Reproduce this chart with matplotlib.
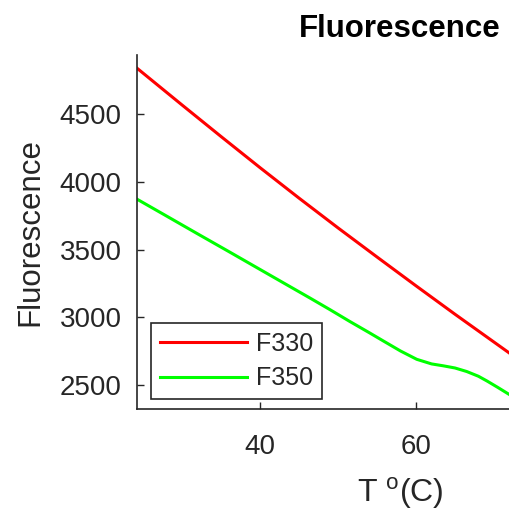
import numpy as np
import matplotlib.pyplot as plt

plt.rcParams["font.family"] = ["Liberation Sans", "DejaVu Sans"]

# ── DATA ─────────────────────────────────────────────────────────────────────
temp_f330 = [24.2, 30.0, 35.0, 40.0, 45.0, 50.0, 55.0, 60.0, 65.0, 72.05]
f330      = [4842, 4569, 4336, 4106, 3881, 3661, 3446, 3233, 3023, 2733]

temp_f350 = [24.2, 28.0, 32.0, 36.0, 40.0, 43.0, 46.4, 49.0, 51.5, 54.0, 55.8,
             58.0, 60.1, 62.0, 63.5, 65.0, 66.5, 68.0, 69.1, 70.5, 72.05]
f350      = [3874, 3749, 3617, 3486, 3354, 3255, 3143, 3056, 2970, 2887, 2826,
             2752, 2690, 2656, 2642, 2626, 2600, 2565, 2530, 2482, 2427]

TXT  = "#262626"
RED  = "#FF0000"
GRN  = "#00FF00"

fig = plt.figure(figsize=(5.10, 5.16), dpi=100)
fig.patch.set_facecolor("white")

# axes run past the right edge of the picture (cropped MATLAB figure)
ax = fig.add_axes([137 / 510, 107 / 516, 526 / 510, 354 / 516])
ax.plot(temp_f330, f330, color=RED, linewidth=2.2, label="F330")
ax.plot(temp_f350, f350, color=GRN, linewidth=2.2, label="F350")

ax.set_xlim(24.23, 91.67)
ax.set_ylim(2323, 4938)
ax.set_xticks([40, 60])
ax.set_yticks([2500, 3000, 3500, 4000, 4500])

for side in ["top", "right"]:
    ax.spines[side].set_visible(False)
for side in ["left", "bottom"]:
    ax.spines[side].set_color(TXT)
    ax.spines[side].set_linewidth(1.2)
ax.tick_params(direction="in", length=5, width=1.0, colors=TXT, labelsize=20)
ax.tick_params(axis="x", pad=18)
ax.tick_params(axis="y", pad=11)

ax.set_title("Fluorescence", fontsize=22.5, fontweight="bold", color="black", pad=13)
ax.set_xlabel("T $^{\\mathregular{o}}$(C)", fontsize=23, color=TXT, labelpad=11)
ax.set_ylabel("Fluorescence", fontsize=22.5, color=TXT, labelpad=10)

leg = ax.legend(loc="lower left", bbox_to_anchor=(0.0266, 0.028), borderaxespad=0,
                fontsize=18, handlelength=3.5, handletextpad=0.35,
                labelspacing=0.42, borderpad=0.35, fancybox=False, framealpha=1)
leg.get_frame().set_edgecolor(TXT)
leg.get_frame().set_linewidth(1.2)
for t in leg.get_texts():
    t.set_color(TXT)

fig.savefig("out.png", dpi=100)
